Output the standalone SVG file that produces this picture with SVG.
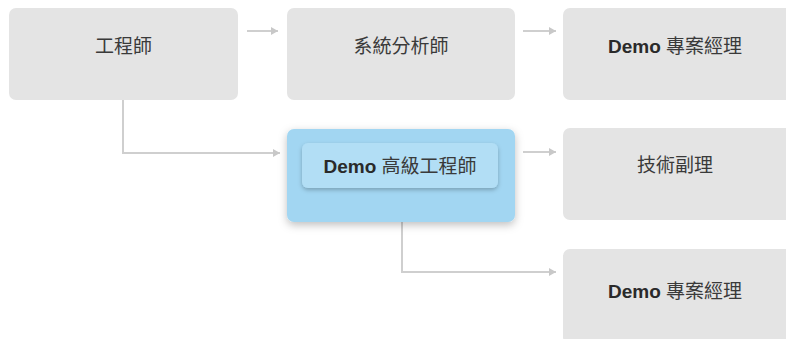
<svg xmlns="http://www.w3.org/2000/svg" width="786" height="339" viewBox="0 0 786 339">
<defs>
<style>
.node{fill:#e4e4e4;}
.lbl{font-family:"Liberation Sans","Noto Sans CJK TC",sans-serif;font-size:19px;fill:#3a3a3a;text-anchor:middle;}
.b{font-weight:bold;fill:#2a2a2a;}
.conn{fill:none;stroke:#cfcfcf;stroke-width:2;}
</style>
<marker id="ah" markerWidth="8" markerHeight="10" refX="7" refY="5" orient="auto" markerUnits="userSpaceOnUse">
<path d="M0,1 L7,5 L0,9 Z" fill="#c8c8c8"/>
</marker>
<filter id="sh" x="-20%" y="-30%" width="140%" height="160%">
<feDropShadow dx="0" dy="3" stdDeviation="4" flood-color="#000" flood-opacity="0.25"/>
</filter>
<filter id="sh2" x="-20%" y="-30%" width="140%" height="160%">
<feDropShadow dx="0" dy="2" stdDeviation="2" flood-color="#000" flood-opacity="0.25"/>
</filter>
</defs>
<rect width="786" height="339" fill="#ffffff"/>
<g id="connectors">
<path class="conn" d="M247,31 H278" marker-end="url(#ah)"/>
<path class="conn" d="M523,31 H556" marker-end="url(#ah)"/>
<path class="conn" d="M123,100 V153 H280" marker-end="url(#ah)"/>
<path class="conn" d="M523,152 H556" marker-end="url(#ah)"/>
<path class="conn" d="M402,222 V272 H556" marker-end="url(#ah)"/>
</g>
<g id="n1">
<rect class="node" x="9" y="8" width="229" height="92" rx="7"/>
<text class="lbl" x="123.5" y="53">工程師</text>
</g>
<g id="n2">
<rect class="node" x="287" y="8" width="228" height="92" rx="7"/>
<text class="lbl" x="401" y="53">系統分析師</text>
</g>
<g id="n3">
<rect class="node" x="563" y="8" width="230" height="92" rx="7"/>
<text class="lbl" x="675" y="53"><tspan class="b">Demo</tspan> 專案經理</text>
</g>
<g id="n4">
<rect x="287" y="129" width="228" height="93" rx="7" fill="#a2d6f2" filter="url(#sh)"/>
<rect x="302" y="143" width="196" height="45" rx="6" fill="#b2def5" filter="url(#sh2)"/>
<text class="lbl" x="400" y="173" fill="#222"><tspan class="b">Demo</tspan> 高級工程師</text>
</g>
<g id="n5">
<rect class="node" x="563" y="128" width="230" height="92" rx="7"/>
<text class="lbl" x="675" y="172">技術副理</text>
</g>
<g id="n6">
<rect class="node" x="563" y="249" width="230" height="95" rx="7"/>
<text class="lbl" x="675" y="298"><tspan class="b">Demo</tspan> 專案經理</text>
</g>
</svg>
